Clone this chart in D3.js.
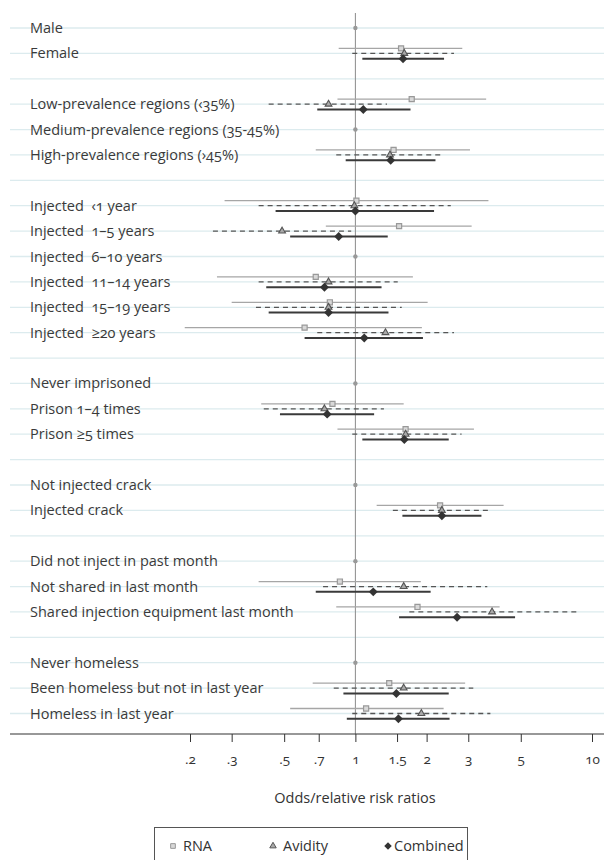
<!DOCTYPE html>
<html>
<head>
<meta charset="utf-8">
<script src="https://d3js.org/d3.v7.min.js"></script>
<style>
  body { margin: 0; background: #fff; }
  svg text { font-family: "Open Sans", "Noto Sans", sans-serif; font-variant-numeric: oldstyle-nums; }
</style>
</head>
<body>
<div id="viz"></div>
<script>
// row labels, "" marks a spacer row
var labels = [
  "Male", "Female", "",
  "Low-prevalence regions (‹35%)", "Medium-prevalence regions (35-45%)", "High-prevalence regions (›45%)", "",
  "Injected  ‹1 year", "Injected  1–5 years", "Injected  6–10 years", "Injected  11–14 years", "Injected  15–19 years", "Injected  ≥20 years", "",
  "Never imprisoned", "Prison 1–4 times", "Prison ≥5 times", "",
  "Not injected crack", "Injected crack", "",
  "Did not inject in past month", "Not shared in last month", "Shared injection equipment last month", "",
  "Never homeless", "Been homeless but not in last year", "Homeless in last year"
];

// reference categories (ratio = 1, no interval)
var reference = ["Male", "Medium-prevalence regions (35-45%)", "Injected  6–10 years",
  "Never imprisoned", "Not injected crack", "Did not inject in past month", "Never homeless"];

// [estimate, lower, upper] per row label
var rna = {
  "Female": [1.56, 0.85, 2.83],
  "Low-prevalence regions (‹35%)": [1.73, 0.84, 3.57],
  "High-prevalence regions (›45%)": [1.45, 0.68, 3.05],
  "Injected  ‹1 year": [1.01, 0.28, 3.65],
  "Injected  1–5 years": [1.53, 0.75, 3.10],
  "Injected  11–14 years": [0.68, 0.26, 1.75],
  "Injected  15–19 years": [0.78, 0.30, 2.02],
  "Injected  ≥20 years": [0.61, 0.19, 1.91],
  "Prison 1–4 times": [0.80, 0.40, 1.60],
  "Prison ≥5 times": [1.63, 0.84, 3.17],
  "Injected crack": [2.28, 1.23, 4.23],
  "Not shared in last month": [0.86, 0.39, 1.89],
  "Shared injection equipment last month": [1.83, 0.83, 4.07],
  "Been homeless but not in last year": [1.39, 0.66, 2.91],
  "Homeless in last year": [1.11, 0.53, 2.36]
};
var avidity = {
  "Female": [1.61, 0.97, 2.61],
  "Low-prevalence regions (‹35%)": [0.77, 0.43, 1.36],
  "High-prevalence regions (›45%)": [1.40, 0.83, 2.37],
  "Injected  ‹1 year": [0.99, 0.39, 2.53],
  "Injected  1–5 years": [0.49, 0.25, 0.96],
  "Injected  11–14 years": [0.77, 0.39, 1.51],
  "Injected  15–19 years": [0.77, 0.38, 1.57],
  "Injected  ≥20 years": [1.34, 0.69, 2.61],
  "Prison 1–4 times": [0.74, 0.41, 1.32],
  "Prison ≥5 times": [1.63, 0.97, 2.81],
  "Injected crack": [2.32, 1.44, 3.72],
  "Not shared in last month": [1.60, 0.73, 3.61],
  "Shared injection equipment last month": [3.78, 1.69, 8.61],
  "Been homeless but not in last year": [1.60, 0.81, 3.15],
  "Homeless in last year": [1.90, 0.97, 3.72]
};
var combined = {
  "Female": [1.59, 1.07, 2.37],
  "Low-prevalence regions (‹35%)": [1.08, 0.69, 1.71],
  "High-prevalence regions (›45%)": [1.41, 0.91, 2.18],
  "Injected  ‹1 year": [1.00, 0.46, 2.15],
  "Injected  1–5 years": [0.85, 0.53, 1.37],
  "Injected  11–14 years": [0.74, 0.42, 1.29],
  "Injected  15–19 years": [0.77, 0.43, 1.38],
  "Injected  ≥20 years": [1.09, 0.61, 1.93],
  "Prison 1–4 times": [0.76, 0.48, 1.20],
  "Prison ≥5 times": [1.61, 1.07, 2.48],
  "Injected crack": [2.32, 1.58, 3.41],
  "Not shared in last month": [1.19, 0.68, 2.08],
  "Shared injection equipment last month": [2.69, 1.53, 4.73],
  "Been homeless but not in last year": [1.49, 0.89, 2.48],
  "Homeless in last year": [1.52, 0.92, 2.50]
};

var tickValues = [0.2, 0.3, 0.5, 0.7, 1, 1.5, 2, 3, 5, 10];
var tickLabels = [".2", ".3", ".5", ".7", "1", "1.5", "2", "3", "5", "10"];

var W = 604, H = 860;
var svg = d3.select("#viz").append("svg").attr("width", W).attr("height", H);

var x = d3.scaleLog().domain([0.2, 10]).range([190, 592]);
var y = d3.scaleLinear().domain([0, labels.length - 1]).range([27.5, 713]);
var axisY = 734;

// light row lines
svg.append("g").selectAll("line").data(labels).join("line")
  .attr("x1", 10).attr("x2", W)
  .attr("y1", function(d, i) { return y(i) + 0.5; })
  .attr("y2", function(d, i) { return y(i) + 0.5; })
  .attr("stroke", "#dcebee").attr("stroke-width", 1.3);

// row labels
svg.append("g").selectAll("text").data(labels).join("text")
  .attr("x", 30).attr("y", function(d, i) { return y(i) + 5.5; })
  .attr("font-size", 14.5).attr("fill", "#3a3a3a")
  .style("white-space", "pre").attr("xml:space", "preserve")
  .text(function(d) { return d; });

// reference line at 1
svg.append("line")
  .attr("x1", x(1)).attr("x2", x(1)).attr("y1", 13).attr("y2", axisY)
  .attr("stroke", "#8a8a8a").attr("stroke-width", 1);

svg.append("g").selectAll("circle").data(reference).join("circle")
  .attr("cx", x(1)).attr("cy", function(d) { return y(labels.indexOf(d)) + 0.5; })
  .attr("r", 2.2).attr("fill", "#999");

var series = [
  { data: rna, dy: -5, stroke: "#a6a6a6", width: 1.3, dash: null, shape: "square" },
  { data: avidity, dy: 0, stroke: "#555", width: 1.3, dash: "5,4", shape: "triangle" },
  { data: combined, dy: 5.3, stroke: "#3a3a3a", width: 2, dash: null, shape: "diamond" }
];

series.forEach(function(s) {
  var rows = Object.keys(s.data).map(function(k) {
    return { row: labels.indexOf(k), v: s.data[k] };
  });
  var g = svg.append("g");
  g.selectAll("line").data(rows).join("line")
    .attr("x1", function(d) { return x(d.v[1]); })
    .attr("x2", function(d) { return x(d.v[2]); })
    .attr("y1", function(d) { return y(d.row) + s.dy + 0.5; })
    .attr("y2", function(d) { return y(d.row) + s.dy + 0.5; })
    .attr("stroke", s.stroke).attr("stroke-width", s.width)
    .attr("stroke-dasharray", s.dash);

  var m = g.selectAll("path").data(rows).join("path")
    .attr("transform", function(d) {
      return "translate(" + x(d.v[0]) + "," + (y(d.row) + s.dy + 0.5) + ")" + (s.shape === "diamond" ? " rotate(45)" : "");
    });
  if (s.shape === "square") {
    m.attr("d", d3.symbol(d3.symbolSquare, 26)).attr("fill", "#d8d8d8").attr("stroke", "#999").attr("stroke-width", 1.2);
  } else if (s.shape === "triangle") {
    m.attr("d", d3.symbol(d3.symbolTriangle, 20)).attr("fill", "#aaa").attr("stroke", "#555").attr("stroke-width", 1.1);
  } else {
    m.attr("d", d3.symbol(d3.symbolSquare, 40)).attr("fill", "#333");
  }
});

// x axis
var axis = d3.axisBottom(x).tickValues(tickValues)
  .tickFormat(function(d, i) { return tickLabels[i]; })
  .tickSize(8).tickPadding(12);
var ax = svg.append("g").attr("transform", "translate(0," + axisY + ")").call(axis);
ax.select(".domain").remove();
ax.selectAll(".tick line").attr("stroke", "#333");
ax.selectAll(".tick text").attr("font-size", 13.5).attr("fill", "#333")
  .style("font-family", "\"Open Sans\", sans-serif");
ax.append("line").attr("x1", 10).attr("x2", W).attr("stroke", "#333").attr("stroke-width", 1.2);

svg.append("text").attr("x", 355).attr("y", 803).attr("text-anchor", "middle")
  .attr("font-size", 14.5).attr("fill", "#333").text("Odds/relative risk ratios");

// legend
var legendNames = ["RNA", "Avidity", "Combined"];
var lg = svg.append("g");
lg.append("rect").attr("x", 154.5).attr("y", 827.5).attr("width", 313).attr("height", 40)
  .attr("fill", "none").attr("stroke", "#555").attr("stroke-width", 1);
var legendX = [173, 273, 388];
var legendSym = [
  { t: d3.symbolSquare, size: 22, fill: "#d8d8d8", stroke: "#999", rot: 0 },
  { t: d3.symbolTriangle, size: 18, fill: "#aaa", stroke: "#555", rot: 0 },
  { t: d3.symbolSquare, size: 28, fill: "#333", stroke: "none", rot: 45 }
];
legendNames.forEach(function(n, i) {
  lg.append("path").attr("d", d3.symbol(legendSym[i].t, legendSym[i].size))
    .attr("transform", "translate(" + legendX[i] + ",846) rotate(" + legendSym[i].rot + ")")
    .attr("fill", legendSym[i].fill).attr("stroke", legendSym[i].stroke);
  lg.append("text").attr("x", legendX[i] + (i === 2 ? 6 : 10)).attr("y", 851)
    .attr("font-size", 14.5).attr("fill", "#333").text(n);
});
</script>
</body>
</html>
